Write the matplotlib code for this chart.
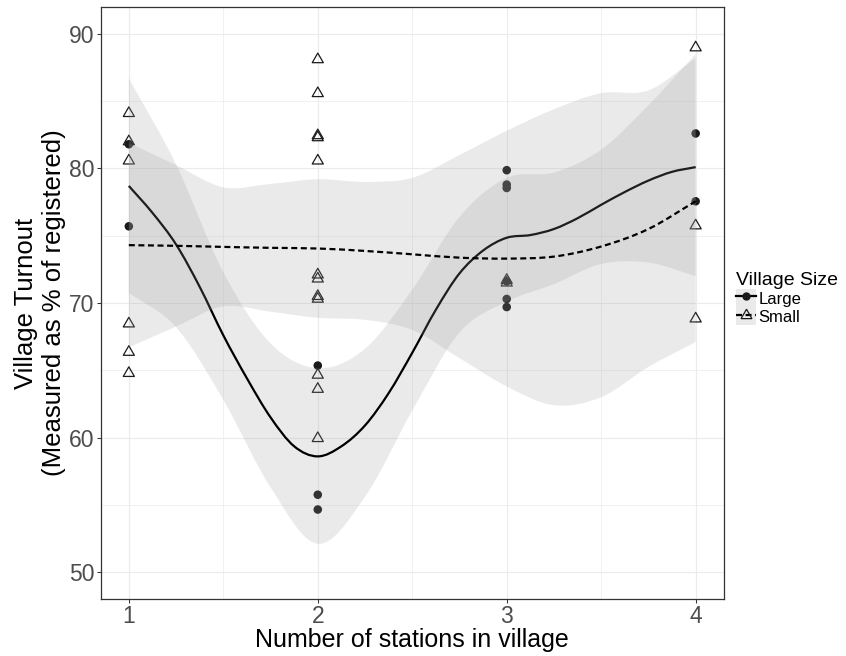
import numpy as np
import matplotlib
matplotlib.use("Agg")
import matplotlib.pyplot as plt
from matplotlib.path import Path
from matplotlib.patches import PathPatch, Patch
from matplotlib.lines import Line2D
from matplotlib.legend_handler import HandlerTuple

plt.rcParams["font.family"] = ["Liberation Sans", "DejaVu Sans"]

# ---- observed villages -------------------------------------------------
large_stations = [1, 1, 2, 2, 2, 3, 3, 3, 3, 3, 3, 4, 4]
large_turnout = [81.8, 75.7, 65.35, 55.75, 54.65,
                 79.87, 78.8, 78.55, 71.6, 70.3, 69.7,
                 82.6, 77.56]

small_stations = [1] * 6 + [2] * 12 + [3] * 2 + [4] * 3
small_turnout = [84.1, 82.0, 80.57, 68.46, 66.35, 64.78,
                 88.1, 85.58, 82.45, 82.3, 80.57, 72.1, 71.8, 70.5, 70.3,
                 64.65, 63.6, 59.94,
                 71.7, 71.5,
                 88.98, 75.75, 68.83]

# ---- loess trends with 95% bands ----------------------------------------
large_fit_x = [1.0, 1.125, 1.25, 1.375, 1.5, 1.625, 1.75, 1.875, 2.0,
               2.125, 2.25, 2.375, 2.5, 2.625, 2.75, 2.875, 3.0,
               3.125, 3.25, 3.375, 3.5, 3.625, 3.75, 3.875, 4.0]
large_fit = [78.7, 76.7, 74.35, 71.2, 67.6, 64.4, 61.5, 59.35, 58.6,
             59.35, 60.9, 63.3, 66.3, 69.5, 72.2, 73.9, 74.85,
             75.05, 75.5, 76.3, 77.3, 78.25, 79.1, 79.75, 80.1]

band_x = [1.0, 1.25, 1.5, 1.75, 2.0, 2.25, 2.5, 2.75, 3.0, 3.25, 3.5, 3.75, 4.0]
large_lower = [70.75, 68.2, 62.8, 56.3, 52.1, 55.6, 62.0, 67.8, 70.1, 71.4, 72.9, 73.0, 72.0]
large_upper = [86.7, 80.3, 72.3, 67.0, 65.15, 66.6, 71.0, 76.4, 79.3, 79.7, 81.4, 84.7, 88.5]

small_fit = [74.3, 74.25, 74.17, 74.1, 74.05, 73.87, 73.62, 73.37, 73.3, 73.45, 74.2, 75.5, 77.56]
small_lower = [66.7, 68.25, 69.75, 69.35, 68.9, 68.75, 68.0, 65.9, 63.8, 62.4, 63.0, 65.25, 67.1]
small_upper = [81.9, 80.25, 78.6, 78.85, 79.2, 79.0, 79.3, 81.0, 82.8, 84.4, 85.6, 85.8, 88.2]

x_ticks = [1, 2, 3, 4]
y_ticks = [50, 60, 70, 80, 90]
x_minor = [1.5, 2.5, 3.5]
y_minor = [55, 65, 75, 85]

RIBBON = "#999999"
RIBBON_ALPHA = 0.2
INK = "black"


def bezier_segments(xs, ys, first_code=Path.MOVETO):
    """Smooth cubic path through the given points (Hermite tangents)."""
    xs = np.asarray(xs, float)
    ys = np.asarray(ys, float)
    slope = np.gradient(ys, xs)
    verts = [(xs[0], ys[0])]
    codes = [first_code]
    for i in range(len(xs) - 1):
        h = xs[i + 1] - xs[i]
        verts += [(xs[i] + h / 3, ys[i] + slope[i] * h / 3),
                  (xs[i + 1] - h / 3, ys[i + 1] - slope[i + 1] * h / 3),
                  (xs[i + 1], ys[i + 1])]
        codes += [Path.CURVE4] * 3
    return verts, codes


def draw_band(ax, xs, lower, upper, z):
    v1, c1 = bezier_segments(xs, upper)
    v2, c2 = bezier_segments(xs[::-1], lower[::-1], first_code=Path.LINETO)
    verts = v1 + v2 + [v1[0]]
    codes = c1 + c2 + [Path.CLOSEPOLY]
    ax.add_patch(PathPatch(Path(verts, codes), facecolor=RIBBON,
                           alpha=RIBBON_ALPHA, edgecolor="none", zorder=z))


def draw_trend(ax, xs, ys, z, dashed=False):
    v, c = bezier_segments(xs, ys)
    patch = PathPatch(Path(v, c), fill=False, edgecolor=INK, lw=1.6,
                      capstyle="butt", joinstyle="round", zorder=z)
    if dashed:
        patch.set_linestyle((0, (2.7, 1.6)))
    ax.add_patch(patch)


W, H = 846, 656
fig = plt.figure(figsize=(W / 100, H / 100), dpi=100)
left, right, top, bottom = 100.5, 724, 7, 599
ax = fig.add_axes([left / W, 1 - bottom / H, (right - left) / W, (bottom - top) / H])

ax.set_xlim(0.85, 4.15)
ax.set_ylim(48, 92)

# grid (theme_bw look)
ax.set_xticks(x_ticks)
ax.set_yticks(y_ticks)
ax.set_xticks(x_minor, minor=True)
ax.set_yticks(y_minor, minor=True)
ax.grid(True, which="major", color="#EBEBEB", lw=0.85, zorder=0)
ax.grid(True, which="minor", color="#EBEBEB", lw=0.5, zorder=0)
ax.set_axisbelow(True)
ax.tick_params(which="minor", length=0)
ax.tick_params(which="major", length=2.9, width=0.75, color="#333333",
               labelsize=16.5, labelcolor="#4D4D4D", pad=1.6)
for s in ax.spines.values():
    s.set_color("#333333")
    s.set_linewidth(0.9)
    s.set_zorder(10)

# points
ax.scatter(large_stations, large_turnout, s=38, marker="o", color="#1A1A1A",
           edgecolors="none", zorder=2)
ax.scatter(small_stations, small_turnout, s=85, marker=(3, 0, 0),
           facecolors="none", edgecolors="#1A1A1A", linewidths=0.9, zorder=2)

# smooths: Large band + line, then Small band + line
bx = np.array(band_x)
draw_band(ax, bx, np.array(large_lower), np.array(large_upper), 3)
draw_trend(ax, large_fit_x, large_fit, 4)
draw_band(ax, bx, np.array(small_lower), np.array(small_upper), 5)
draw_trend(ax, band_x, small_fit, 6, dashed=True)

fig.text((left + right) / 2 / W, 1 - 639.5 / H, "Number of stations in village",
         ha="center", va="center", fontsize=18)
fig.text(40 / W, 1 - 303 / H, "Village Turnout\n(Measured as % of registered)",
         rotation=90, ha="center", va="center", fontsize=18.5, linespacing=1.25)

# legend
h_large = (Patch(facecolor=RIBBON, alpha=RIBBON_ALPHA, edgecolor="none"),
           Line2D([], [], color=INK, lw=1.6, marker="o", ms=6,
                  markeredgewidth=0, markerfacecolor="#1A1A1A"))
h_small = (Patch(facecolor=RIBBON, alpha=RIBBON_ALPHA, edgecolor="none"),
           Line2D([], [], color=INK, lw=1.6, ls=(0, (2.7, 1.6)), marker=(3, 0, 0),
                  ms=9, markerfacecolor="none", markeredgecolor="#1A1A1A",
                  markeredgewidth=0.9))
leg = fig.legend([h_large, h_small], ["Large", "Small"],
                 handler_map={tuple: HandlerTuple(ndivide=1, pad=0)},
                 loc="upper left", bbox_to_anchor=(736 / W, 1 - 272 / H),
                 frameon=False, title="Village Size", title_fontsize=14,
                 fontsize=12, handlelength=1.2, handleheight=1.3,
                 handletextpad=0.15, labelspacing=0.0, borderpad=0,
                 borderaxespad=0, alignment="left")

fig.savefig("out.png", dpi=100)
